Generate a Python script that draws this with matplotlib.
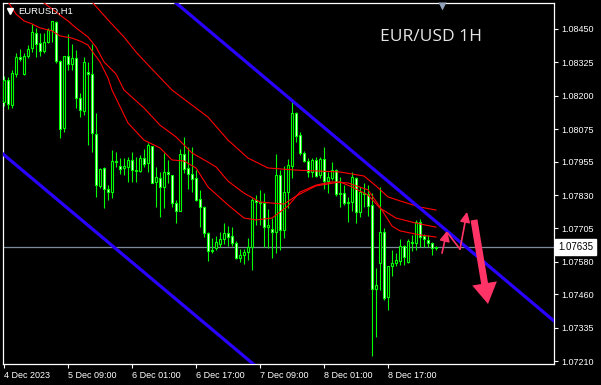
import matplotlib
matplotlib.use("Agg")
import matplotlib.pyplot as plt
import numpy as np

# EURUSD H1 candles (bar index 0 = 4 Dec 17:00)
opens = [
    1.08177, 1.08260, 1.08166, 1.08282, 1.08345, 1.08282, 1.08349, 1.08379, 1.08435, 1.08398,
    1.08368, 1.08401, 1.08446, 1.08476, 1.08330, 1.08080, 1.08349, 1.08319, 1.08342, 1.08192,
    1.08144, 1.08289, 1.08282, 1.08058, 1.07864, 1.07931, 1.07852, 1.07841, 1.07957, 1.07938,
    1.07931, 1.07935, 1.07961, 1.07923, 1.07920, 1.07968, 1.07950, 1.08013, 1.07879, 1.07893,
    1.07860, 1.07916, 1.07905, 1.07800, 1.07770, 1.07983, 1.07931, 1.07908, 1.07893, 1.07815,
    1.07785, 1.07688, 1.07621, 1.07632, 1.07647, 1.07666, 1.07688, 1.07677, 1.07651, 1.07595,
    1.07606, 1.07617, 1.07636, 1.07811, 1.07804, 1.07800, 1.07710, 1.07703, 1.07692, 1.07905,
    1.07699, 1.07841, 1.07938, 1.08136, 1.08054, 1.07987, 1.07957, 1.07916, 1.07961, 1.07905,
    1.07964, 1.07882, 1.07893, 1.07923, 1.07834, 1.07837, 1.07800, 1.07804, 1.07893, 1.07766,
    1.07837, 1.07834, 1.07793, 1.07479, 1.07576, 1.07692, 1.07449, 1.07565, 1.07576, 1.07583,
    1.07640, 1.07580, 1.07654, 1.07651, 1.07729, 1.07677, 1.07662, 1.07651, 1.07632,
]
highs = [
    1.08274, 1.08271, 1.08297, 1.08360, 1.08375, 1.08360, 1.08390, 1.08469, 1.08454, 1.08435,
    1.08435, 1.08454, 1.08480, 1.08480, 1.08334, 1.08349, 1.08431, 1.08394, 1.08372, 1.08211,
    1.08345, 1.08327, 1.08394, 1.08136, 1.07931, 1.07935, 1.07867, 1.07998, 1.07991, 1.07968,
    1.07968, 1.07972, 1.07991, 1.07972, 1.07979, 1.08002, 1.08024, 1.08013, 1.07935, 1.07916,
    1.07987, 1.07961, 1.07905, 1.07811, 1.08002, 1.08047, 1.08009, 1.08009, 1.07923, 1.07849,
    1.07789, 1.07692, 1.07669, 1.07677, 1.07692, 1.07725, 1.07714, 1.07710, 1.07658, 1.07628,
    1.07628, 1.07669, 1.07819, 1.07830, 1.07849, 1.07837, 1.07778, 1.07744, 1.07983, 1.07923,
    1.07938, 1.07964, 1.08181, 1.08140, 1.08065, 1.07994, 1.07968, 1.07968, 1.07972, 1.07972,
    1.08009, 1.07916, 1.07953, 1.07927, 1.07897, 1.07867, 1.07823, 1.07916, 1.07897, 1.07860,
    1.07875, 1.07867, 1.07837, 1.07557, 1.07860, 1.07707, 1.07565, 1.07625, 1.07613, 1.07666,
    1.07643, 1.07666, 1.07681, 1.07737, 1.07740, 1.07684, 1.07681, 1.07654, 1.07640,
]
lows = [
    1.08162, 1.08151, 1.08155, 1.08271, 1.08330, 1.08278, 1.08342, 1.08364, 1.08345, 1.08349,
    1.08360, 1.08398, 1.08401, 1.08323, 1.08043, 1.08065, 1.08297, 1.08297, 1.08155, 1.08121,
    1.08129, 1.08017, 1.07991, 1.07823, 1.07856, 1.07781, 1.07811, 1.07819, 1.07935, 1.07908,
    1.07905, 1.07879, 1.07879, 1.07879, 1.07916, 1.07935, 1.07916, 1.07875, 1.07785, 1.07748,
    1.07781, 1.07875, 1.07785, 1.07725, 1.07770, 1.07912, 1.07852, 1.07841, 1.07808, 1.07710,
    1.07673, 1.07583, 1.07613, 1.07625, 1.07636, 1.07647, 1.07640, 1.07640, 1.07591, 1.07580,
    1.07572, 1.07587, 1.07550, 1.07718, 1.07718, 1.07636, 1.07632, 1.07595, 1.07613, 1.07625,
    1.07669, 1.07781, 1.07893, 1.08028, 1.07979, 1.07953, 1.07897, 1.07897, 1.07897, 1.07893,
    1.07852, 1.07837, 1.07886, 1.07826, 1.07785, 1.07793, 1.07729, 1.07770, 1.07725, 1.07748,
    1.07785, 1.07752, 1.07229, 1.07300, 1.07475, 1.07438, 1.07400, 1.07527, 1.07565, 1.07569,
    1.07569, 1.07576, 1.07621, 1.07625, 1.07636, 1.07636, 1.07636, 1.07606, 1.07625,
]
closes = [
    1.08260, 1.08170, 1.08286, 1.08345, 1.08338, 1.08349, 1.08375, 1.08439, 1.08394, 1.08368,
    1.08401, 1.08446, 1.08480, 1.08330, 1.08076, 1.08349, 1.08319, 1.08342, 1.08192, 1.08147,
    1.08327, 1.08282, 1.08062, 1.07867, 1.07927, 1.07852, 1.07841, 1.07957, 1.07953, 1.07927,
    1.07938, 1.07961, 1.07923, 1.07920, 1.07968, 1.07946, 1.08017, 1.07875, 1.07897, 1.07860,
    1.07916, 1.07908, 1.07800, 1.07770, 1.07983, 1.07927, 1.07908, 1.07890, 1.07811, 1.07785,
    1.07688, 1.07621, 1.07625, 1.07654, 1.07666, 1.07688, 1.07673, 1.07651, 1.07595, 1.07606,
    1.07617, 1.07636, 1.07811, 1.07804, 1.07800, 1.07710, 1.07718, 1.07692, 1.07905, 1.07699,
    1.07841, 1.07942, 1.08136, 1.08050, 1.07987, 1.07957, 1.07916, 1.07961, 1.07901, 1.07964,
    1.07882, 1.07897, 1.07923, 1.07834, 1.07837, 1.07800, 1.07804, 1.07897, 1.07766, 1.07841,
    1.07834, 1.07789, 1.07479, 1.07494, 1.07692, 1.07445, 1.07565, 1.07576, 1.07587, 1.07640,
    1.07598, 1.07658, 1.07651, 1.07729, 1.07673, 1.07666, 1.07651, 1.07632, 1.07635,
]

# the three red moving averages, read at some bars
ma_slow_idx = [20, 21, 22, 26, 30, 33, 36, 42, 46, 51, 56, 61, 66, 73, 84, 90, 93, 96, 99, 104, 108]
ma_slow = [1.08570, 1.08562, 1.08551, 1.08484, 1.08420, 1.08364, 1.08316, 1.08222, 1.08177,
           1.08121, 1.08035, 1.07968, 1.07931, 1.07923, 1.07916, 1.07901, 1.07864, 1.07823,
           1.07808, 1.07785, 1.07774]
ma_mid_idx = [8, 10, 12, 14, 16, 18, 21, 23, 25, 28, 30, 35, 39, 43, 47, 51, 53, 56, 60, 64,
              70, 73, 78, 84, 87, 91, 94, 98, 103, 108]
ma_mid = [1.08570, 1.08547, 1.08525, 1.08502, 1.08480, 1.08454, 1.08420, 1.08383, 1.08327,
          1.08282, 1.08222, 1.08155, 1.08091, 1.08047, 1.07987, 1.07953, 1.07935, 1.07882,
          1.07837, 1.07804, 1.07796, 1.07826, 1.07864, 1.07879, 1.07860, 1.07830, 1.07781,
          1.07744, 1.07725, 1.07710]
ma_fast_idx = [1, 3, 5, 7, 9, 12, 14, 17, 19, 21, 22, 24, 26, 27, 31, 35, 39, 42, 45, 48, 51,
               56, 60, 63, 67, 71, 74, 78, 82, 86, 91, 94, 97, 99, 104, 108]
ma_fast = [1.08551, 1.08506, 1.08480, 1.08469, 1.08454, 1.08443, 1.08424, 1.08416, 1.08405,
           1.08390, 1.08368, 1.08327, 1.08267, 1.08222, 1.08099, 1.08035, 1.08006, 1.07961,
           1.07957, 1.07931, 1.07860, 1.07793, 1.07744, 1.07737, 1.07744, 1.07789, 1.07841,
           1.07867, 1.07879, 1.07875, 1.07849, 1.07785, 1.07714, 1.07696, 1.07681, 1.07673]

# descending channel (two anchors each)
chan_upper = [(49, 1.08472), (137, 1.07366)]
chan_lower = [(0, 1.07980), (62, 1.07203)]

# projection arrows
wave_up1 = [(109.5, 1.07613), (110.75, 1.07696)]
wave_down = [(110.9, 1.07688), (114.0, 1.07628)]
wave_up2 = [(114.0, 1.07628), (115.75, 1.07767)]
big_down = [(117.5, 1.07737), (121.0, 1.07423)]

bid = 1.07635
price_ticks = [1.08450, 1.08325, 1.08200, 1.08075, 1.07955, 1.07830, 1.07705,
               1.07580, 1.07460, 1.07335, 1.07210]
time_ticks = [0, 16, 32, 48, 64, 80, 96]
time_labels = ["4 Dec 2023", "5 Dec 09:00", "6 Dec 01:00", "6 Dec 17:00",
               "7 Dec 09:00", "8 Dec 01:00", "8 Dec 17:00"]

LIME = "#00ff00"
font = ["Liberation Sans", "DejaVu Sans"]

fig = plt.figure(figsize=(6.01, 3.85), dpi=100, facecolor="black")
ax = fig.add_axes([3 / 601, 1 - 364 / 385, 551 / 601, 361 / 385])
ax.set_facecolor("black")

idx = np.arange(len(opens))
o = np.array(opens)
c = np.array(closes)
ax.vlines(idx, lows, highs, color=LIME, lw=0.8, zorder=2)
bottoms = np.minimum(o, c)
heights = np.maximum(np.abs(c - o), 1e-6)
faces = ["white" if cc < oo else "black" for oo, cc in zip(o, c)]
ax.bar(idx, heights, bottom=bottoms, width=0.55, color=faces, edgecolor=LIME,
       linewidth=0.8, zorder=3)

for xs, ys in [(ma_slow_idx, ma_slow), (ma_mid_idx, ma_mid), (ma_fast_idx, ma_fast)]:
    ax.plot(xs, ys, color="#ff0000", lw=0.8, zorder=4)

ax.axline(chan_upper[0], chan_upper[1], color="#2a00ff", lw=2.3, zorder=5)
ax.axline(chan_lower[0], chan_lower[1], color="#2a00ff", lw=2.3, zorder=5)

ax.axhline(bid, color="#7c8a99", lw=0.9, zorder=1)

PINK = "#ff3366"
for seg, style in [(wave_up1, "-|>,head_length=0.6,head_width=0.3"),
                   (wave_down, "-"),
                   (wave_up2, "-|>,head_length=0.6,head_width=0.3")]:
    ax.annotate("", xy=seg[1], xytext=seg[0],
                arrowprops=dict(arrowstyle=style, color=PINK, lw=1.2,
                                shrinkA=0, shrinkB=0, mutation_scale=10),
                zorder=6)
ax.annotate("", xy=big_down[1], xytext=big_down[0],
            arrowprops=dict(arrowstyle="simple,head_length=1.5,head_width=1.8,tail_width=0.5",
                            fc=PINK, ec=PINK, lw=0, shrinkA=0, shrinkB=0,
                            mutation_scale=10),
            zorder=6)

ax.set_xlim(-0.25, 137.5)
ax.set_ylim(1.07199, 1.08547)

ax.yaxis.tick_right()
ax.set_yticks(price_ticks)
ax.set_yticklabels([f"{p:.5f}" for p in price_ticks], fontfamily=font, fontsize=6.5,
                   color="white")
ax.set_xticks(time_ticks)
ax.set_xticklabels(time_labels, fontfamily=font, fontsize=6.5, color="white", ha="left")
ax.tick_params(axis="both", direction="out", length=3, width=0.8, color="white", pad=2)
for sp in ax.spines.values():
    sp.set_color("white")
    sp.set_linewidth(0.9)

# current price box
ax.text(1.007, bid, "1.07635", transform=ax.get_yaxis_transform(), ha="left",
        va="center", fontfamily=font, fontsize=7, color="black",
        bbox=dict(boxstyle="square,pad=0.3", fc="white", ec="white"), clip_on=False,
        zorder=10)

# header and title
ax.plot([0.0125], [0.979], marker="v", ms=4.5, color="white", transform=ax.transAxes,
        clip_on=False, zorder=10)
ax.text(0.027, 0.978, "EURUSD,H1", transform=ax.transAxes, ha="left", va="center",
        fontfamily=font, fontsize=6.8, color="white", zorder=10)
ax.text(0.684, 0.907, "EUR/USD 1H", transform=ax.transAxes, ha="left", va="center",
        fontfamily=["Open Sans", "DejaVu Sans"], fontsize=12.5, color="#e6e6e6",
        zorder=10)
# chart-shift marker at the top border
ax.plot([109.5], [1.08537], marker="v", ms=6, color="#8fa0b8", mec="none",
        clip_on=False, zorder=10)

fig.savefig("out.png", dpi=100, facecolor="black")
